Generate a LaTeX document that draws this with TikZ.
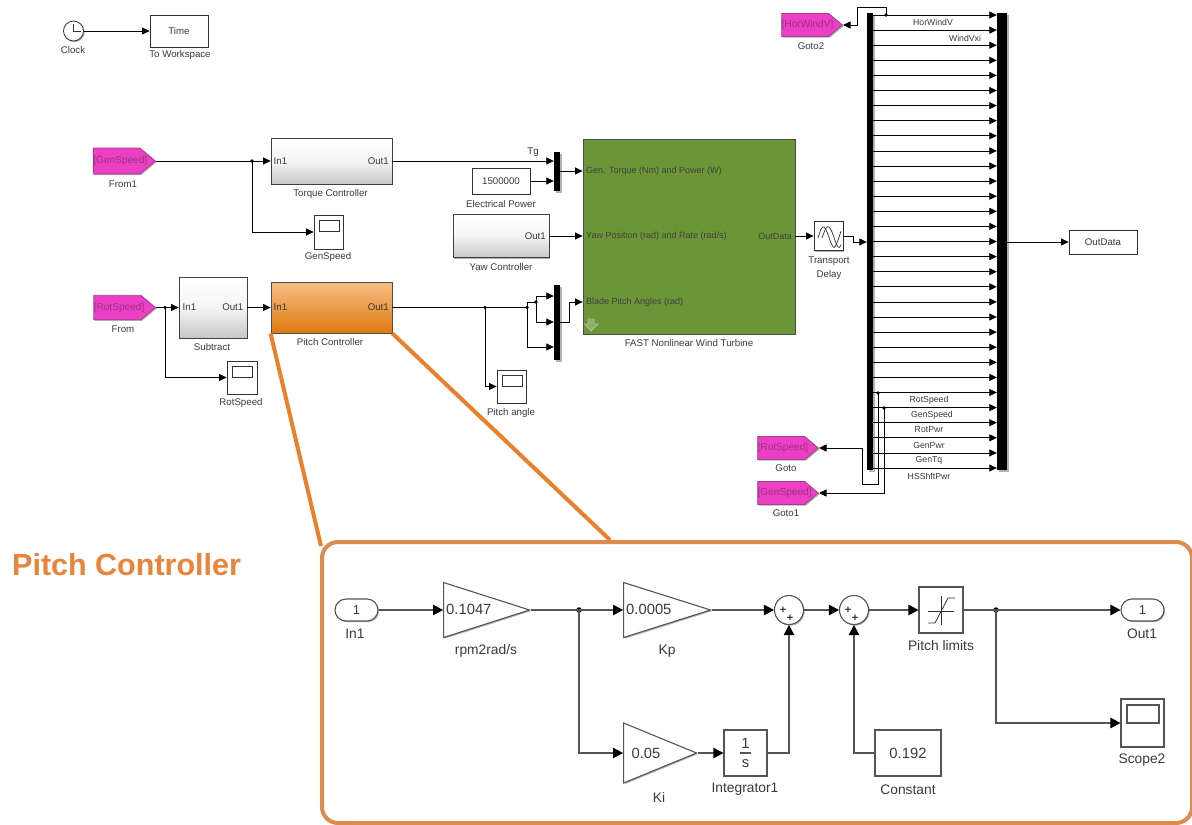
\documentclass[tikz,border=0pt]{standalone}
\usepackage{fontspec}
\setmainfont{Liberation Sans}
\usetikzlibrary{arrows.meta,shapes.geometric,shapes.symbols,shapes.misc,shadows,calc,shadings}
\definecolor{txt}{HTML}{3A3A3A}
\definecolor{magentaB}{HTML}{EB3FC4}
\definecolor{magentaT}{HTML}{8A1070}
\definecolor{turbine}{HTML}{6A9638}
\definecolor{lineO}{HTML}{E9812C}
\definecolor{rectO}{HTML}{DC8C4E}
\definecolor{titleO}{HTML}{E9853A}
\definecolor{insetL}{HTML}{555555}
\definecolor{pitchTop}{HTML}{F7BE85}
\definecolor{pitchBot}{HTML}{DE7A0E}
\newcommand{\bx}[7][]{%
  \pgfmathsetmacro{\bxw}{#6-#4}\pgfmathsetmacro{\bxh}{#7-#5}%
  \pgfmathsetmacro{\bxx}{(#4+#6)/2}\pgfmathsetmacro{\bxy}{(#5+#7)/2}%
  \node[#2,minimum width=\bxw pt,minimum height=\bxh pt,#1] (#3) at (\bxx,\bxy) {};}
\tikzset{
  x=1pt,y=-1pt,
  soft/.style={drop shadow={shadow xshift=1.2pt,shadow yshift=-1.2pt,fill=black,opacity=.3}},
  softB/.style={drop shadow={shadow xshift=1.5pt,shadow yshift=-1.5pt,fill=black,opacity=.3}},
  wire/.style={draw=black,line width=.8pt,-{Triangle[length=7.5pt,width=7pt]}},
  wireN/.style={draw=black,line width=.8pt},
  iwire/.style={draw=insetL,line width=1.1pt,-{Triangle[length=10pt,width=10.5pt,color=black]}},
  iwireN/.style={draw=insetL,line width=1.1pt},
  plain/.style={draw=black!80,line width=.8pt,fill=white,inner sep=0pt,soft},
  iplain/.style={draw=insetL,line width=1.1pt,fill=white,inner sep=0pt,soft},
  grad/.style={draw=black!75,line width=.8pt,top color=white,bottom color=black!22,middle color=white!96!black,inner sep=0pt,soft},
  orangeblk/.style={draw=black!70,line width=.8pt,top color=pitchTop,bottom color=pitchBot,inner sep=0pt,soft},
  greenblk/.style={draw=black!70,line width=.8pt,fill=turbine,inner sep=0pt,soft},
  barb/.style={fill=black,draw=none,inner sep=0pt,softB},
  lab/.style={font=\fontsize{9.7pt}{11pt}\selectfont,text=txt,inner sep=0pt},
  glab/.style={font=\fontsize{9pt}{11pt}\selectfont,text=black!75,inner sep=0pt},
  blab/.style={font=\fontsize{8.7pt}{10pt}\selectfont,text=txt,inner sep=0pt},
  ilab/.style={font=\fontsize{13.8pt}{15pt}\selectfont,text=txt,inner sep=0pt},
  ival/.style={font=\fontsize{14.8pt}{16pt}\selectfont,text=txt,inner sep=0pt},
  gtag/.style={shape=signal,signal to=east,signal from=nowhere,signal pointer angle=80,draw=magentaT!80,line width=.8pt,fill=magentaB,
     inner sep=0pt,minimum height=24.5pt,anchor=east,text=magentaT!85,soft,font=\fontsize{10.1pt}{11pt}\selectfont,text width=47pt,align=left},
  jdot/.style={circle,fill=black,inner sep=0pt,minimum size=3.6pt},
  ijdot/.style={circle,fill=black,inner sep=0pt,minimum size=5.5pt},
  gainT/.style={isosceles triangle,isosceles triangle stretches,shape border rotate=0,draw=insetL,line width=1.1pt,fill=white,inner sep=0pt,anchor=lower side,soft},
  portp/.style={rounded rectangle,draw=insetL,line width=1.1pt,fill=white,inner sep=0pt,soft},
  scr/.style={draw=black!80,line width=.8pt,fill=white,inner sep=0pt},
  iscr/.style={draw=insetL,line width=1.1pt,fill=white,inner sep=0pt},
  sumc/.style={circle,draw=insetL,line width=1.1pt,fill=white,inner sep=0pt,minimum size=29pt,soft},
  plus/.style={font=\fontsize{11pt}{11pt}\selectfont\bfseries,text=black!80,inner sep=0pt},
}
\begin{document}
\begin{tikzpicture}
\useasboundingbox (0,0) rectangle (1192,825);
\fill[white] (0,0) rectangle (1192,825);

% ---------- top row
\node[circle,draw=black!80,line width=.8pt,fill=white,inner sep=0pt,minimum size=20pt,soft] (clock) at (73.5,31) {};
\draw[black!80,line width=.8pt] (73.5,23.5) -- (clock.center) -- (80.5,31);
\node[lab] (clockL) at (73,50) {Clock};
\bx{plain}{time}{150}{15}{208}{47}
\node[lab] (timeT) at (time.center) {Time};
\node[lab] (timeL) at (180,55) {To Workspace};
\draw[wire] (clock) -- (time);

% ---------- torque row
\node[gtag,minimum height=26pt,text width=46.5pt] (from1) at (156,161) {\rlap{[GenSpeed]}};
\node[lab] (from1L) at (123,184) {From1};
\bx{grad}{torque}{271}{138}{392}{184}
\node[lab,anchor=west] (tIn) at (273.5,161) {In1};
\node[lab,anchor=east] (tOut) at (389,161) {Out1};
\node[lab] (torqueL) at (330.5,194) {Torque Controller};
\bx{plain}{gsScope}{314}{215}{343}{249}
\bx{scr}{gsScr}{319}{220}{339}{231}
\node[lab] (gsL) at (328,257) {GenSpeed};
\node[jdot] (j1) at (252,161) {};
\draw[wire] (from1.east) -- (torque.west);
\draw[wire] (j1.center) |- (gsScope.west);

% ---------- pitch row
\node[gtag] (from) at (156,307.5) {\rlap{[RotSpeed]}};
\node[lab] (fromL) at (123,329) {From};
\bx{grad}{subtract}{179}{277}{247}{338}
\node[lab,anchor=west] (sIn) at (182.5,307) {In1};
\node[lab,anchor=east] (sOut) at (243.5,307) {Out1};
\node[lab] (subL) at (212,347) {Subtract};
\bx{plain}{rsScope}{227}{361}{257}{394}
\bx{scr}{rsScr}{232}{366}{252}{377}
\node[lab] (rsL) at (241,403) {RotSpeed};
\node[jdot] (j2) at (165,307.5) {};
\draw[wire] (from.east) -- (subtract.west);
\draw[wire] (j2.center) |- (rsScope.west);
\bx{orangeblk}{pitch}{271}{282}{392}{333}
\node[lab,anchor=west] (pIn) at (273.5,307) {In1};
\node[lab,anchor=east] (pOut) at (389,307) {Out1};
\node[lab] (pitchL) at (330,342) {Pitch Controller};
\draw[wire] (subtract.east) -- (pitch.west);

% ---------- muxes
\bx{barb}{mux1}{554}{152}{560}{191}
\bx{barb}{mux2}{554}{285}{560}{360}
\node[lab,anchor=south] (tg) at (533,157) {Tg};
\draw[wire] (torque.east) -- (mux1.west |- torque.east);
\bx{plain}{power}{472}{168}{530}{194}
\node[lab] (powerT) at (power.center) {1500000};
\node[lab] (powerL) at (501,204) {Electrical Power};
\draw[wire] (power.east) -- (mux1.west |- power.east);
\bx{grad}{yaw}{453}{214.5}{549}{257.5}
\node[lab,anchor=east] (yOut) at (546,236) {Out1};
\node[lab] (yawL) at (501,267) {Yaw Controller};

% ---------- turbine
\bx{greenblk}{fast}{583}{139}{795}{334}
\node[glab,anchor=west] (fa) at (586,171) {Gen. Torque (Nm) and Power (W)};
\node[glab,anchor=west] (fb) at (586,236) {Yaw Position (rad) and Rate (rad/s)};
\node[glab,anchor=west] (fc) at (586,302) {Blade Pitch Angles (rad)};
\node[glab,anchor=east] (fd) at (792,236) {OutData};
\node[lab] (fastL) at (689,343.5) {FAST Nonlinear Wind Turbine};
\draw[draw=turbine!60!white,fill=turbine!75!white,line width=.8pt] (588,319)--(594,319)--(594,324)--(598,324)--(591,331)--(584.5,324)--(588,324)--cycle;
\draw[wire] (mux1.east |- 0,171) -- (fast.west |- 0,171);
\draw[wire] (yaw.east) -- (fast.west |- yaw.east);
\node[jdot] (j3) at (485,307.5) {};
\node[jdot] (j4) at (527,307.5) {};
\node[jdot] (j5) at (536,302) {};
\draw[wireN] (pitch.east) -- (j4.center);
\draw[wireN] (j4.center) |- (j5.center);
\draw[wire] (j5.center) |- (mux2.west |- 0,296);
\draw[wire] (j5.center) |- (mux2.west |- 0,322);
\draw[wire] (j4.center) |- (mux2.west |- 0,347);
\draw[wire] (mux2.east |- 0,322) -- (569,322) |- (fast.west |- 0,302);
\bx{plain}{paScope}{497}{370}{526}{403}
\bx{scr}{paScr}{502}{375}{522}{386}
\node[lab] (paL) at (511,413) {Pitch angle};
\draw[wire] (j3.center) |- (paScope.west);

% ---------- transport delay
\bx{plain}{delay}{814}{221.5}{843}{250.5}
\begin{scope}
\clip (816,223.5) rectangle (841,248.5);
\draw[black!80,line width=.7pt] plot[smooth] coordinates {(818,238)(821,229)(824,227)(827,232)(831,243)(834,247.5)(837,243)(841,231)};
\draw[black!80,line width=.7pt] plot[smooth] coordinates {(822,238)(826,228)(829,227)(832,232)(836,243)(839,247.5)(842,243)};
\end{scope}
\node[lab] (delayL1) at (829,261) {Transport};
\node[lab] (delayL2) at (829,274.5) {Delay};
\draw[wire] (fast.east |- delay.west) -- (delay.west);

% ---------- bus
\bx{barb}{lbar}{867}{13}{873}{470}
\bx{barb}{rbar}{997}{13}{1007}{470}
\foreach \i in {0,...,30}{
  \pgfmathsetmacro{\yy}{15+15.1*\i}
  \draw[wire] (lbar.east |- 0,\yy) -- (rbar.west |- 0,\yy);
}
\draw[wire] (delay.east) -- (853,236) |- (lbar.west |- 0,242);
\node[gtag,minimum height=23pt] (goto2) at (843,25) {\rlap{[HorWindV]}};
\node[lab] (goto2L) at (811,46) {Goto2};
\node[jdot] (j6) at (886,15) {};
\draw[wire] (j6.center) -- (886,7) -- (857,7) |- (goto2.east);
\node[blab] (n1) at (933,22.5) {HorWindV};
\node[blab] (n2) at (965,38) {WindVxi};
\node[blab] (n3) at (929,400) {RotSpeed};
\node[blab] (n4) at (932,415) {GenSpeed};
\node[blab] (n5) at (929,430) {RotPwr};
\node[blab] (n6) at (929,445) {GenPwr};
\node[blab] (n7) at (929,460) {GenTq};
\node[blab] (n8) at (929,476) {HSShftPwr};
\node[gtag,minimum height=23pt] (goto) at (819,448) {\rlap{[RotSpeed]}};
\node[lab] (gotoL) at (786,468) {Goto};
\node[gtag,minimum height=23pt] (goto1) at (819,493) {\rlap{[GenSpeed]}};
\node[lab] (goto1L) at (786,513) {Goto1};
\node[jdot] (j7) at (878,393) {};
\node[jdot] (j8) at (884,408) {};
\draw[wire] (j7.center) -- (878,484) -- (862,484) |- (goto.east);
\draw[wire] (j8.center) |- (goto1.east);
\bx{plain}{outdata}{1069}{230}{1137}{254}
\node[lab] (outdataT) at (outdata.center) {OutData};
\draw[wire] (rbar.east |- outdata.west) -- (outdata.west);

% ---------- inset
\bx[rounded corners=16pt]{draw=rectO,line width=4pt,inner sep=0pt}{inset}{322}{542}{1192}{823}
\coordinate (insL) at (321,546);
\coordinate (insR) at (610,540);
\draw[lineO,line width=4pt] (pitch.south west) -- (insL);
\draw[lineO,line width=4pt] (pitch.south east) -- (insR);
\node[anchor=west,inner sep=0pt,text=titleO,font=\fontsize{30.5pt}{32pt}\selectfont\bfseries] (title) at (12,565) {Pitch Controller};

\bx{portp}{in1}{335}{599}{378}{621}
\node[ival,font=\fontsize{13pt}{14pt}\selectfont] (in1T) at (in1.center) {1};
\node[ilab] (in1L) at (355,634) {In1};
\node[gainT,minimum width=55pt,minimum height=86pt] (g1) at (443,610) {};
\node[ival,anchor=west] (g1T) at (446,609.5) {0.1047};
\node[ilab] (g1L) at (486,651) {rpm2rad/s};
\node[gainT,minimum width=55pt,minimum height=87pt] (kp) at (623,610) {};
\node[ival,anchor=west] (kpT) at (626,609.5) {0.0005};
\node[ilab] (kpL) at (667,651) {Kp};
\node[gainT,minimum width=60pt,minimum height=73pt] (ki) at (623,753) {};
\node[ival] (kiT) at (646,753) {0.05};
\node[ilab] (kiL) at (659,797) {Ki};
\bx{iplain}{integ}{724}{730}{767}{776}
\node[ival] (intN) at (745.5,743) {1};
\node[ival] (intD) at (745.5,763.5) {s};
\draw[insetL,line width=1.1pt] (740,753) -- (751,753);
\node[ilab] (intL) at (745,789) {Integrator1};
\node[sumc] (sum1) at (789,610) {};
\node[sumc] (sum2) at (854,610) {};
\node[plus] (p1a) at (783,610.5) {+};
\node[plus] (p1b) at (790,618) {+};
\node[plus] (p2a) at (848,610.5) {+};
\node[plus] (p2b) at (855,618) {+};
\bx{iplain}{const}{875}{730}{941}{776}
\node[ival] (constT) at (const.center) {0.192};
\node[ilab] (constL) at (908,790) {Constant};
\bx{iplain}{sat}{919}{587}{963}{633}
\draw[black!80,line width=.8pt] (928,611) -- (954,611) (941,596) -- (941,625);
\draw[black!80,line width=.8pt] (928,623) -- (935,623) -- (948,598) -- (955,598);
\node[ilab] (satL) at (941,646) {Pitch limits};
\bx{portp}{out1}{1121}{599}{1164}{621}
\node[ival,font=\fontsize{13pt}{14pt}\selectfont] (out1T) at (out1.center) {1};
\node[ilab] (out1L) at (1142,634) {Out1};
\bx{iplain}{scope2}{1121}{699}{1164}{747}
\bx{iscr}{scope2S}{1127}{705}{1159}{723}
\node[ilab] (scope2L) at (1142,760) {Scope2};
\node[ijdot] (ij1) at (579,610) {};
\node[ijdot] (ij2) at (996,610) {};
\draw[iwire] (in1.east) -- (g1.lower side);
\draw[iwireN] (g1.apex) -- (ij1.center);
\draw[iwire] (ij1.center) -- (kp.lower side);
\draw[iwire] (ij1.center) |- (ki.lower side);
\draw[iwire] (ki.apex) -- (integ.west);
\draw[iwire] (kp.apex) -- (sum1.west);
\draw[iwire] (integ.east) -| (sum1.south);
\draw[iwire] (sum1.east) -- (sum2.west);
\draw[iwire] (const.west) -| (sum2.south);
\draw[iwire] (sum2.east) -- (sat.west);
\draw[iwireN] (sat.east) -- (ij2.center);
\draw[iwire] (ij2.center) -- (out1.west);
\draw[iwire] (ij2.center) |- (scope2.west);
\end{tikzpicture}
\end{document}
